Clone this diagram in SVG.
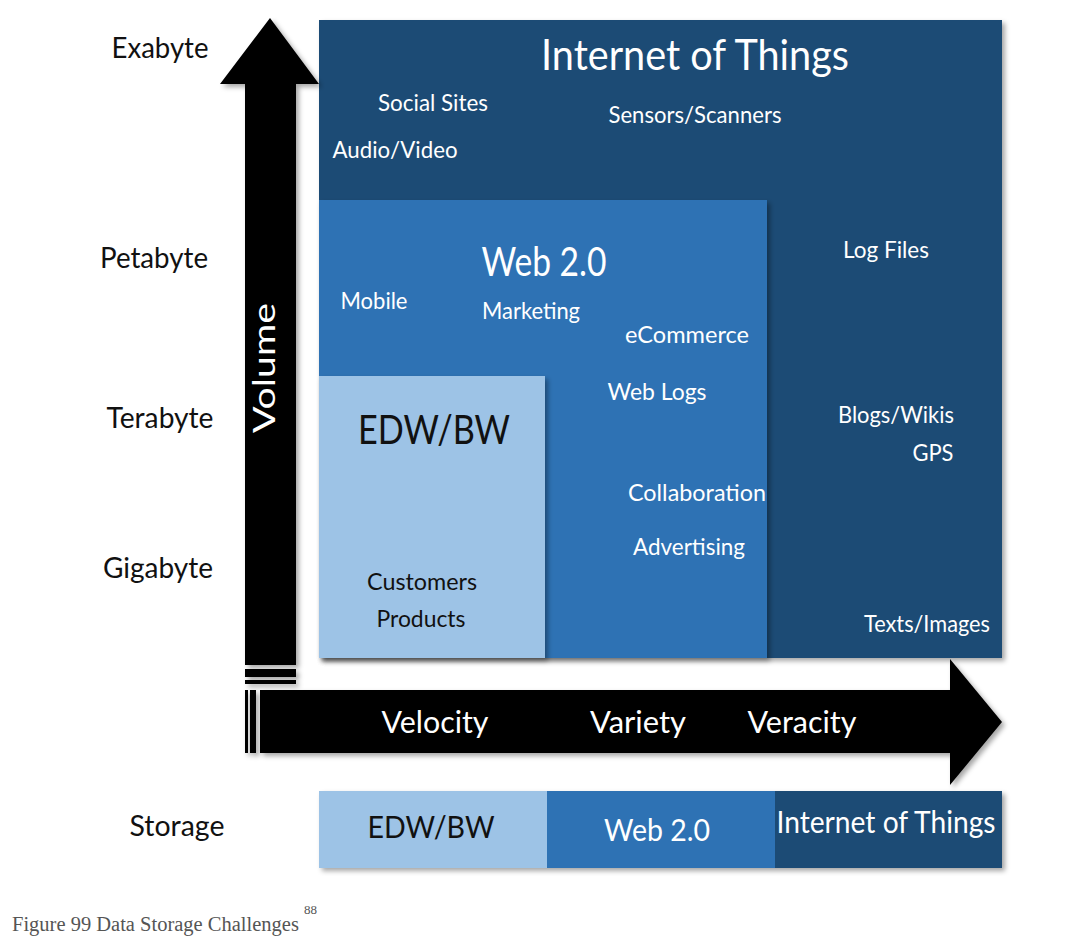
<svg xmlns="http://www.w3.org/2000/svg" width="1083" height="940" viewBox="0 0 1083 940">
<defs>
<filter id="sh" x="-5%" y="-5%" width="115%" height="115%">
<feDropShadow dx="3" dy="3" stdDeviation="2.5" flood-color="#000" flood-opacity="0.35"/>
</filter>
<style>
.t{font-family:Lato,"Open Sans","Liberation Sans",sans-serif;}
.w{fill:#ffffff;}
.k{fill:#111111;}
.ax{font-size:28px;}
.s{font-size:24px;}
.iot{fill:#1f4b75;}
.web{fill:#2f72b4;}
.edw{fill:#9dc3e6;}
</style>
</defs>
<rect width="1083" height="940" fill="#ffffff"/>

<g id="iot">
<rect class="iot" x="319" y="20" width="683" height="638" filter="url(#sh)"/>
<text class="t w" x="695" y="70" font-size="42" text-anchor="middle" textLength="308" lengthAdjust="spacingAndGlyphs">Internet of Things</text>
<text class="t w s" x="433" y="111" text-anchor="middle" textLength="110" lengthAdjust="spacingAndGlyphs">Social Sites</text>
<text class="t w s" x="395" y="158" text-anchor="middle" textLength="125" lengthAdjust="spacingAndGlyphs">Audio/Video</text>
<text class="t w s" x="695" y="123" text-anchor="middle" textLength="173" lengthAdjust="spacingAndGlyphs">Sensors/Scanners</text>
<text class="t w s" x="886" y="258" text-anchor="middle" textLength="86" lengthAdjust="spacingAndGlyphs">Log Files</text>
<text class="t w s" x="896" y="423" text-anchor="middle" textLength="116" lengthAdjust="spacingAndGlyphs">Blogs/Wikis</text>
<text class="t w s" x="933" y="461" text-anchor="middle" textLength="41" lengthAdjust="spacingAndGlyphs">GPS</text>
<text class="t w s" x="927" y="632" text-anchor="middle" textLength="126" lengthAdjust="spacingAndGlyphs">Texts/Images</text>
</g>

<g id="web20">
<rect class="web" x="319" y="200" width="448" height="458" filter="url(#sh)"/>
<text class="t w" x="544" y="276" font-size="40" text-anchor="middle" textLength="125" lengthAdjust="spacingAndGlyphs">Web 2.0</text>
<text class="t w s" x="374" y="309" text-anchor="middle" textLength="67" lengthAdjust="spacingAndGlyphs">Mobile</text>
<text class="t w s" x="531" y="319" text-anchor="middle" textLength="98" lengthAdjust="spacingAndGlyphs">Marketing</text>
<text class="t w s" x="687" y="343" text-anchor="middle" textLength="124" lengthAdjust="spacingAndGlyphs">eCommerce</text>
<text class="t w s" x="657" y="400" text-anchor="middle" textLength="99" lengthAdjust="spacingAndGlyphs">Web Logs</text>
<text class="t w s" x="697" y="501" text-anchor="middle" textLength="138" lengthAdjust="spacingAndGlyphs">Collaboration</text>
<text class="t w s" x="689" y="555" text-anchor="middle" textLength="112" lengthAdjust="spacingAndGlyphs">Advertising</text>
</g>

<g id="edw">
<rect class="edw" x="319" y="376" width="226" height="282" filter="url(#sh)"/>
<text class="t k" x="434" y="444" font-size="40" text-anchor="middle" textLength="152" lengthAdjust="spacingAndGlyphs">EDW/BW</text>
<text class="t k s" x="422" y="590" text-anchor="middle" textLength="110" lengthAdjust="spacingAndGlyphs">Customers</text>
<text class="t k s" x="421" y="627" text-anchor="middle" textLength="89" lengthAdjust="spacingAndGlyphs">Products</text>
</g>

<g id="axis-labels">
<text class="t k ax" x="160" y="58" text-anchor="middle" textLength="97" lengthAdjust="spacingAndGlyphs">Exabyte</text>
<text class="t k ax" x="154" y="268" text-anchor="middle" textLength="108" lengthAdjust="spacingAndGlyphs">Petabyte</text>
<text class="t k ax" x="160" y="428" text-anchor="middle" textLength="107" lengthAdjust="spacingAndGlyphs">Terabyte</text>
<text class="t k ax" x="158" y="578" text-anchor="middle" textLength="110" lengthAdjust="spacingAndGlyphs">Gigabyte</text>
<text class="t k ax" x="177" y="836" text-anchor="middle" textLength="95" lengthAdjust="spacingAndGlyphs">Storage</text>
</g>

<g id="connectors">
<g id="volume-arrow" fill="#000000" filter="url(#sh)">
<polygon points="270,18 319,84 296,84 296,665 245,665 245,84 220,84"/>
<rect x="245" y="669" width="51" height="8"/>
<rect x="245" y="680" width="51" height="4"/>
</g>
<g id="velocity-arrow" fill="#000000" filter="url(#sh)">
<polygon points="260,690 950,690 950,659 1002,722 950,785 950,753 260,753"/>
<rect x="245" y="690" width="3" height="63"/>
<rect x="250" y="690" width="6" height="63"/>
</g>
<text class="t w" x="265" y="368" font-size="30" text-anchor="middle" transform="rotate(-90 265 368)" dy="10" textLength="130" lengthAdjust="spacingAndGlyphs">Volume</text>
<text class="t w" x="435" y="733" font-size="30" text-anchor="middle" textLength="107" lengthAdjust="spacingAndGlyphs">Velocity</text>
<text class="t w" x="638" y="733" font-size="30" text-anchor="middle" textLength="96" lengthAdjust="spacingAndGlyphs">Variety</text>
<text class="t w" x="802" y="733" font-size="30" text-anchor="middle" textLength="109" lengthAdjust="spacingAndGlyphs">Veracity</text>
</g>

<g id="storage-bar">
<g filter="url(#sh)">
<rect class="edw" x="319" y="791" width="228" height="77"/>
<rect class="web" x="547" y="791" width="228" height="77"/>
<rect class="iot" x="775" y="791" width="227" height="77"/>
</g>
<text class="t k" x="431" y="838" font-size="30" text-anchor="middle" textLength="127" lengthAdjust="spacingAndGlyphs">EDW/BW</text>
<text class="t w" x="657" y="841" font-size="30" text-anchor="middle" textLength="106" lengthAdjust="spacingAndGlyphs">Web 2.0</text>
<text class="t w" x="886" y="833" font-size="30" text-anchor="middle" textLength="219" lengthAdjust="spacingAndGlyphs">Internet of Things</text>
</g>

<g id="caption">
<text x="12" y="931" font-family="'Liberation Serif',serif" font-size="20.5" fill="#555555">Figure 99 Data Storage Challenges</text>
<text x="304" y="914" font-family="'Liberation Serif',serif" font-size="13" fill="#555555">88</text>
</g>
</svg>
